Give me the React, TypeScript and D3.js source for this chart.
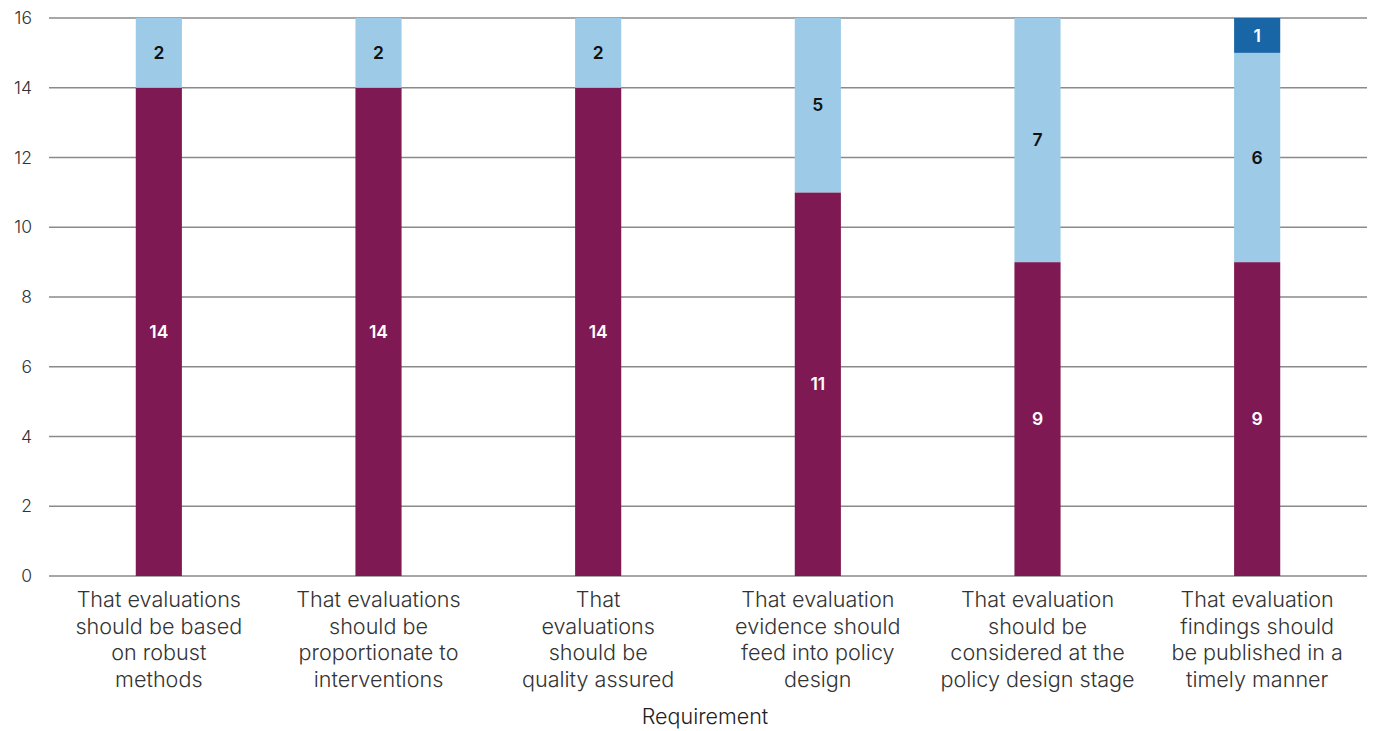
import React from "react";
import * as d3 from "d3";

const categories = [
  ["That evaluations", "should be based", "on robust", "methods"],
  ["That evaluations", "should be", "proportionate to", "interventions"],
  ["That", "evaluations", "should be", "quality assured"],
  ["That evaluation", "evidence should", "feed into policy", "design"],
  ["That evaluation", "should be", "considered at the", "policy design stage"],
  ["That evaluation", "findings should", "be published in a", "timely manner"],
];
const seriesA = [14, 14, 14, 11, 9, 9];
const seriesB = [2, 2, 2, 5, 7, 6];
const seriesC = [0, 0, 0, 0, 0, 1];
const yTicks = [0, 2, 4, 6, 8, 10, 12, 14, 16];
const xTitle = "Requirement";

const colors = ["#7f1954", "#9ccae7", "#1966a6"];
const labelColors = ["#ffffff", "#111111", "#ffffff"];

export default function App() {
  const W = 1375, H = 731;
  const left = 49, right = 1367, top = 18, bottom = 576;
  const x = d3.scaleBand<number>().domain(d3.range(categories.length)).range([left, right]).paddingInner(0.79).paddingOuter(0.395);
  const y = d3.scaleLinear().domain([0, 16]).range([bottom, top]);
  const series = [seriesA, seriesB, seriesC];
  const font = "Inter, 'Liberation Sans', sans-serif";
  return (
    <svg width={W} height={H} style={{ position: "absolute", left: 0, top: 0 }} fontFamily={font}>
      {yTicks.map((t) => (
        <g key={t}>
          <line x1={left} x2={right} y1={y(t)} y2={y(t)} stroke="#8a8a8a" strokeWidth={1.3} />
          <text x={32} y={y(t)} dy="0.35em" textAnchor="end" fontSize={17.5} fill="#333" fontWeight={300}>{t}</text>
        </g>
      ))}
      {categories.map((c, i) => {
        let base = 0;
        return (
          <g key={i}>
            {series.map((s, k) => {
              const v = s[i];
              if (!v) return null;
              const y0 = y(base), y1 = y(base + v);
              base += v;
              return (
                <g key={k}>
                  <rect x={x(i)} width={x.bandwidth()} y={y1} height={y0 - y1} fill={colors[k]} />
                  <text x={x(i)! + x.bandwidth() / 2} y={(y0 + y1) / 2} dy="0.35em" textAnchor="middle" fontSize={17.5} fontWeight={600} fill={labelColors[k]}>{v}</text>
                </g>
              );
            })}
            <text x={x(i)! + x.bandwidth() / 2} y={607} textAnchor="middle" fontSize={21.6} fill="#333" fontWeight={300}>
              {c.map((l, j) => (
                <tspan key={j} x={x(i)! + x.bandwidth() / 2} dy={j === 0 ? 0 : 26.7}>{l}</tspan>
              ))}
            </text>
          </g>
        );
      })}
      <text x={(left + right) / 2 - 3} y={724} textAnchor="middle" fontSize={21.5} fill="#222" fontWeight={300}>{xTitle}</text>
    </svg>
  );
}
